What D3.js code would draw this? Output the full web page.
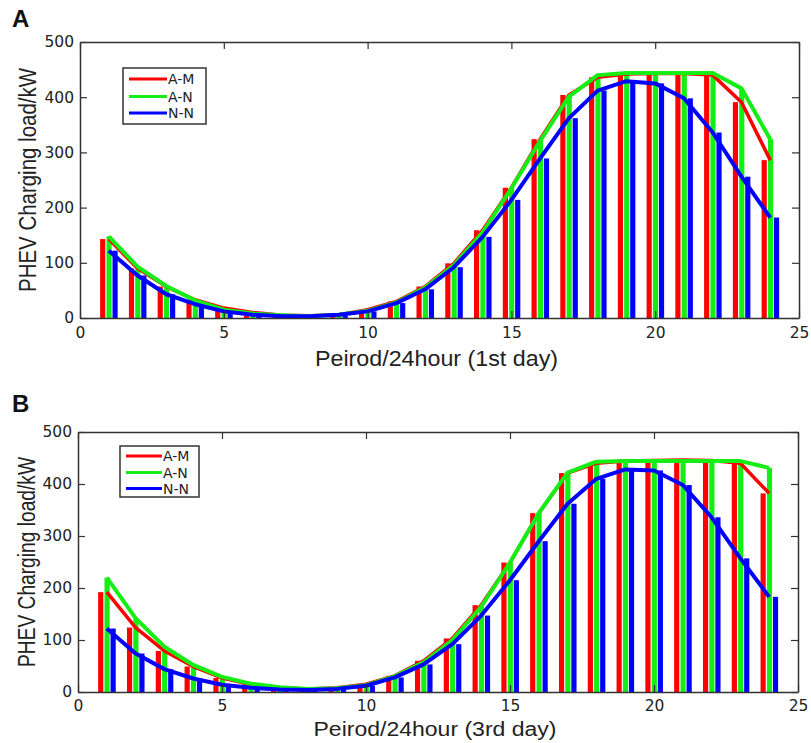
<!DOCTYPE html>
<html>
<head>
<meta charset="utf-8">
<script src="https://cdn.jsdelivr.net/npm/d3@7"></script>
<style>
  body { margin: 0; background: #fff; }
  svg { display: block; }
</style>
</head>
<body>
<div id="chart"></div>
<script>
// hours 1..24
const hours = d3.range(1, 25);

// 1st day
const day1AM = [143, 90, 57, 33, 18, 10, 5, 4, 6, 15, 30, 57, 99, 159, 236, 324, 404, 436, 442, 443, 443, 440, 391, 286];
const day1AN = [148, 93, 58, 32, 15, 8, 5, 3, 6, 13, 28, 55, 96, 155, 235, 321, 401, 440, 444, 444, 444, 444, 416, 324];
const day1NN = [122, 77, 43, 25, 12, 6, 3, 3, 6, 12, 27, 52, 92, 147, 214, 289, 362, 412, 429, 425, 398, 336, 256, 182];

// 3rd day
const day3AM = [192, 124, 79, 49, 27, 15, 8, 6, 8, 15, 31, 60, 103, 167, 249, 344, 421, 440, 444, 445, 446, 445, 440, 382];
const day3AN = [220, 142, 87, 52, 29, 16, 9, 6, 7, 13, 30, 57, 100, 164, 249, 344, 422, 443, 444, 444, 444, 444, 444, 431];
const day3NN = [122, 74, 44, 26, 14, 8, 5, 4, 6, 12, 28, 53, 92, 147, 215, 290, 362, 410, 428, 426, 398, 336, 257, 183];

const seriesNames = ["A-M", "A-N", "N-N"];
const xTicks = [0, 5, 10, 15, 20, 25];
const yTicks = [0, 100, 200, 300, 400, 500];

const colors = ["#ff0000", "#14ee14", "#0000ff"];
const barOffset = [-0.21, 0.01, 0.22];
const barW = 0.18;
const lineW = [3.5, 4, 4];

const svg = d3.select("#chart").append("svg")
    .attr("width", 811)
    .attr("height", 743);

function drawPanel(p) {
    var x = d3.scaleLinear().domain([0, 25]).range([p.left, p.right]);
    var y = d3.scaleLinear().domain([0, 500]).range([p.bottom, p.top]);
    var g = svg.append("g");

    var data = p.series;

    // bars
    data.forEach(function(vals, s) {
        g.append("g").selectAll("rect")
            .data(vals)
            .enter()
            .append("rect")
            .attr("x", function(d, i) { return x(hours[i] + barOffset[s] - barW / 2); })
            .attr("width", x(barW) - x(0))
            .attr("y", function(d) { return y(d); })
            .attr("height", function(d) { return y(0) - y(d); })
            .attr("fill", colors[s]);
    });

    // lines
    var line = d3.line()
        .x(function(d, i) { return x(hours[i]); })
        .y(function(d) { return y(d); });
    data.forEach(function(vals, s) {
        g.append("path")
            .datum(vals)
            .attr("d", line)
            .attr("fill", "none")
            .attr("stroke", colors[s])
            .attr("stroke-width", lineW[s])
            .attr("stroke-linejoin", "round");
    });

    // axes (inward ticks, MATLAB box)
    var axL = g.append("g")
        .attr("transform", "translate(" + p.left + ",0)")
        .call(d3.axisLeft(y).tickValues(yTicks).tickSizeInner(-7).tickSizeOuter(0).tickPadding(6));
    var axB = g.append("g")
        .attr("transform", "translate(0," + p.bottom + ")")
        .call(d3.axisBottom(x).tickValues(xTicks).tickSizeInner(-7).tickSizeOuter(0).tickPadding(p.xPad));
    var axT = g.append("g")
        .attr("transform", "translate(0," + p.top + ")")
        .call(d3.axisTop(x).tickValues(xTicks).tickSizeInner(-7).tickSizeOuter(0).tickFormat(""));
    var axR = g.append("g")
        .attr("transform", "translate(" + p.right + ",0)")
        .call(d3.axisRight(y).tickValues(yTicks).tickSizeInner(-7).tickSizeOuter(0).tickFormat(""));

    [axL, axB, axT, axR].forEach(function(a) {
        a.select(".domain").attr("stroke", "#333").attr("stroke-width", 1.5);
        a.selectAll(".tick line").attr("stroke", "#333").attr("stroke-width", 1.2);
        a.selectAll("text")
            .attr("font-family", "DejaVu Sans")
            .attr("font-size", 15.5)
            .attr("fill", "#222");
    });

    // axis titles
    g.append("text")
        .attr("x", (p.left + p.right) / 2 - 3)
        .attr("y", p.xTitleY)
        .attr("text-anchor", "middle")
        .attr("font-family", "Liberation Sans")
        .attr("font-size", p.xTitleSize)
        .attr("fill", "#222")
        .attr("textLength", 243)
        .attr("lengthAdjust", "spacingAndGlyphs")
        .text(p.xTitle);

    g.append("text")
        .attr("transform", "translate(" + p.yTitleX + "," + p.yTitleCy + ") rotate(-90)")
        .attr("text-anchor", "middle")
        .attr("font-family", "Liberation Sans")
        .attr("font-size", 23)
        .attr("fill", "#222")
        .attr("textLength", p.yTitleLen)
        .attr("lengthAdjust", "spacingAndGlyphs")
        .text("PHEV Charging load/kW");

    // panel letter
    g.append("text")
        .attr("x", 12)
        .attr("y", p.letterY)
        .attr("font-family", "Liberation Sans")
        .attr("font-weight", "bold")
        .attr("font-size", 24)
        .attr("fill", "#111")
        .text(p.letter);

    // legend
    var lg = g.append("g");
    lg.append("rect")
        .attr("x", p.leg.x)
        .attr("y", p.leg.y)
        .attr("width", p.leg.w)
        .attr("height", p.leg.h)
        .attr("fill", "#fff")
        .attr("stroke", "#333")
        .attr("stroke-width", 1.5);
    seriesNames.forEach(function(name, s) {
        var ry = p.leg.rows[s];
        lg.append("line")
            .attr("x1", p.leg.x + 6)
            .attr("x2", p.leg.x + 6 + p.leg.lineLen)
            .attr("y1", ry)
            .attr("y2", ry)
            .attr("stroke", colors[s])
            .attr("stroke-width", 3);
        lg.append("text")
            .attr("x", p.leg.x + 7 + p.leg.lineLen)
            .attr("y", ry)
            .attr("dy", "0.36em")
            .attr("font-family", "DejaVu Sans")
            .attr("font-size", 14)
            .attr("fill", "#222")
            .text(name);
    });
}

drawPanel({
    left: 80, right: 799, top: 42, bottom: 318,
    series: [day1AM, day1AN, day1NN],
    xPad: 9,
    xTitle: "Peirod/24hour (1st day)", xTitleY: 366, xTitleSize: 22,
    yTitleX: 36, yTitleCy: 180, yTitleLen: 224,
    letter: "A", letterY: 27,
    leg: { x: 123, y: 68, w: 83, h: 56, rows: [79, 96.5, 113], lineLen: 38 }
});

drawPanel({
    left: 78, right: 798, top: 432, bottom: 692,
    series: [day3AM, day3AN, day3NN],
    xPad: 8,
    xTitle: "Peirod/24hour (3rd day)", xTitleY: 736, xTitleSize: 20,
    yTitleX: 35, yTitleCy: 562, yTitleLen: 210,
    letter: "B", letterY: 412,
    leg: { x: 120, y: 446, w: 79, h: 51, rows: [456, 472.5, 488.5], lineLen: 36 }
});
</script>
</body>
</html>
